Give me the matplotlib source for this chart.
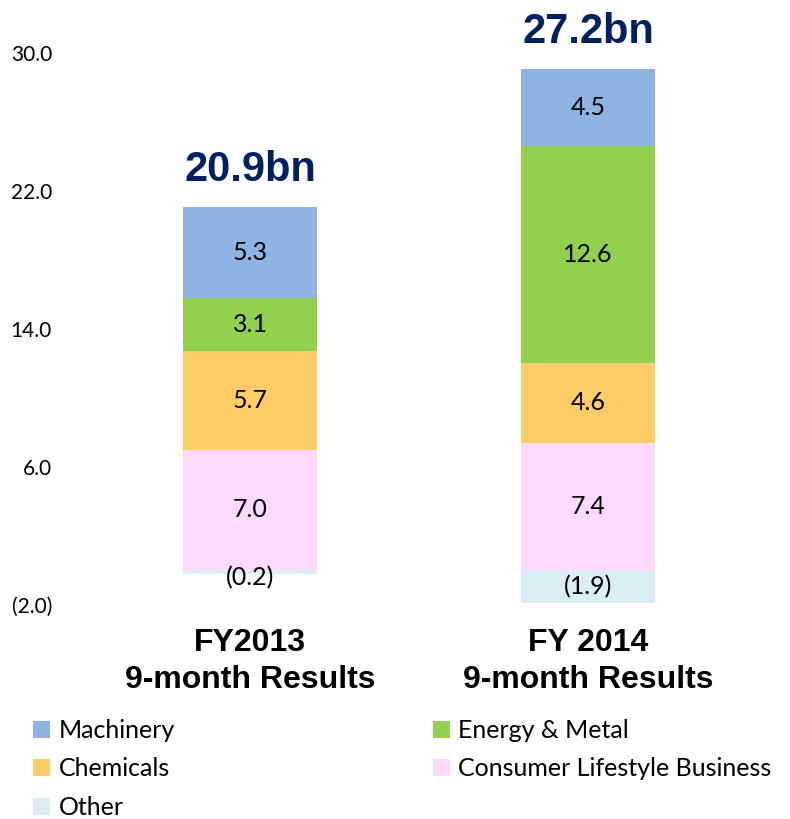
import matplotlib.pyplot as plt
from matplotlib.patches import Patch
from matplotlib.ticker import FuncFormatter
import numpy as np

# values in bn
periods = ['FY2013\n9-month Results', 'FY 2014\n9-month Results']
other = [-0.2, -1.9]
consumer = [7.0, 7.4]
chemicals = [5.7, 4.6]
energy = [3.1, 12.6]
machinery = [5.3, 4.5]
totals = [20.9, 27.2]
y_ticks = [-2.0, 6.0, 14.0, 22.0, 30.0]

colors = {
    'Machinery': '#8EB4E3',
    'Energy & Metal': '#92D050',
    'Chemicals': '#FFCC66',
    'Consumer Lifestyle Business': '#FDD9FD',
    'Other': '#DAEEF3',
}

plt.rcParams['font.family'] = ['Lato', 'DejaVu Sans']

fig = plt.figure(figsize=(7.9, 8.19), dpi=100)
ax = fig.add_axes([70 / 790, 199 / 819, 720 / 790, 620 / 819])

x = np.arange(len(periods))
w = 0.396

# negative part goes below zero, the rest stacks up from zero
ax.bar(x, other, w, color=colors['Other'])
stack = [('Consumer Lifestyle Business', consumer), ('Chemicals', chemicals),
         ('Energy & Metal', energy), ('Machinery', machinery)]
bottom = np.zeros(len(x))
for name, vals in stack:
    vals = np.array(vals)
    ax.bar(x, vals, w, bottom=bottom, color=colors[name])
    for xi, b, v in zip(x, bottom, vals):
        ax.text(xi, b + v / 2, f'{v:.1f}', ha='center', va='center', fontsize=18)
    bottom += vals

for xi, v in zip(x, other):
    ax.text(xi, min(v / 2, -0.45), f'({abs(v):.1f})', ha='center', va='center', fontsize=18)

for xi, top, t in zip(x, bottom, totals):
    ax.annotate(f'{t:.1f}bn', (xi, top), xytext=(0, 12), textcoords='offset points',
                ha='center', va='bottom', fontsize=30, fontweight='bold',
                color='#002060', family='Liberation Sans')

ax.set_xlim(-0.533, 1.598)
ax.set_ylim(-2.9, 33.1)
ax.set_yticks(y_ticks)
ax.yaxis.set_major_formatter(FuncFormatter(lambda v, p: f'({abs(v):.1f})' if v < 0 else f'{v:.1f}'))
ax.tick_params(axis='y', length=0, labelsize=15, pad=13)
ax.set_xticks(x)
ax.set_xticklabels(periods, fontsize=23, fontweight='bold', family='Liberation Sans',
                   linespacing=1.3)
ax.tick_params(axis='x', length=0, pad=6)
for s in ax.spines.values():
    s.set_visible(False)

order = ['Machinery', 'Chemicals', 'Other', 'Energy & Metal', 'Consumer Lifestyle Business']
handles = [Patch(facecolor=colors[n], label=n) for n in order]
fig.legend(handles=handles, ncol=2, loc='upper left', bbox_to_anchor=(33 / 790, 100 / 819),
           frameon=False, fontsize=18, handlelength=0.68, handleheight=0.68,
           handletextpad=0.35, columnspacing=10.3, labelspacing=0.62,
           borderpad=0, borderaxespad=0)

fig.savefig('out.png', dpi=100)
